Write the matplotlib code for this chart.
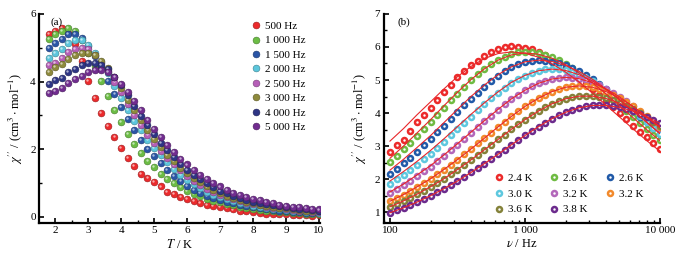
import matplotlib
matplotlib.use('Agg')
import matplotlib.pyplot as plt
import matplotlib.colors as mcolors
from matplotlib.ticker import MultipleLocator, FixedLocator, FixedFormatter, LogLocator, NullFormatter
from matplotlib.transforms import offset_copy

# ---------------- data: panel (a) ----------------
T = [1.8, 2.0, 2.2, 2.4, 2.6, 2.8, 3.0, 3.2, 3.4, 3.6, 3.8, 4.0, 4.2, 4.4, 4.6, 4.8,
     5.0, 5.2, 5.4, 5.6, 5.8, 6.0, 6.2, 6.4, 6.6, 6.8, 7.0, 7.2, 7.4, 7.6, 7.8, 8.0,
     8.2, 8.4, 8.6, 8.8, 9.0, 9.2, 9.4, 9.6, 9.8, 10.0]
freq_labels_a = ["500 Hz", "1 000 Hz", "1 500 Hz", "2 000 Hz", "2 500 Hz", "3 000 Hz", "4 000 Hz", "5 000 Hz"]
chi_500 = [5.40, 5.50, 5.58, 5.45, 5.10, 4.60, 4.02, 3.53, 3.07, 2.68, 2.35, 2.03, 1.75, 1.52, 1.27, 1.15,
           1.04, 0.90, 0.73, 0.67, 0.60, 0.54, 0.48, 0.42, 0.36, 0.32, 0.29, 0.26, 0.22, 0.19, 0.17, 0.14,
           0.13, 0.10, 0.10, 0.09, 0.08, 0.07, 0.06, 0.06, 0.04, 0.05]
chi_1000 = [5.27, 5.42, 5.50, 5.58, 5.50, 5.22, 4.85, 4.45, 4.02, 3.58, 3.17, 2.80, 2.45, 2.16, 1.90, 1.66,
            1.47, 1.28, 1.13, 1.00, 0.88, 0.78, 0.69, 0.61, 0.54, 0.48, 0.43, 0.38, 0.34, 0.30, 0.27, 0.24,
            0.21, 0.19, 0.17, 0.15, 0.14, 0.12, 0.11, 0.10, 0.09, 0.08]
chi_1500 = [5.00, 5.15, 5.25, 5.40, 5.42, 5.30, 5.05, 4.75, 4.40, 4.02, 3.63, 3.26, 2.90, 2.56, 2.28, 2.00,
            1.79, 1.59, 1.39, 1.22, 1.06, 0.92, 0.81, 0.72, 0.63, 0.56, 0.50, 0.45, 0.40, 0.36, 0.32, 0.29,
            0.26, 0.23, 0.21, 0.19, 0.17, 0.16, 0.14, 0.13, 0.12, 0.11]
chi_2000 = [4.70, 4.85, 4.97, 5.15, 5.22, 5.22, 5.08, 4.85, 4.57, 4.25, 3.88, 3.51, 3.17, 2.84, 2.56, 2.28,
            2.04, 1.82, 1.61, 1.42, 1.25, 1.10, 0.96, 0.85, 0.75, 0.66, 0.59, 0.52, 0.46, 0.41, 0.37, 0.33,
            0.30, 0.27, 0.24, 0.22, 0.20, 0.18, 0.17, 0.15, 0.14, 0.13]
chi_2500 = [4.48, 4.55, 4.70, 4.88, 4.97, 5.00, 4.95, 4.78, 4.55, 4.30, 4.00, 3.68, 3.33, 3.02, 2.72, 2.43,
            2.18, 1.96, 1.75, 1.55, 1.38, 1.22, 1.07, 0.95, 0.84, 0.74, 0.66, 0.59, 0.52, 0.46, 0.42, 0.37,
            0.34, 0.30, 0.27, 0.25, 0.23, 0.21, 0.19, 0.18, 0.16, 0.15]
chi_3000 = [4.28, 4.42, 4.52, 4.68, 4.78, 4.84, 4.85, 4.78, 4.62, 4.40, 4.13, 3.80, 3.47, 3.15, 2.86, 2.56,
            2.30, 2.06, 1.84, 1.64, 1.46, 1.30, 1.15, 1.02, 0.90, 0.80, 0.71, 0.63, 0.56, 0.50, 0.45, 0.40,
            0.36, 0.33, 0.30, 0.27, 0.25, 0.23, 0.21, 0.19, 0.18, 0.17]
chi_4000 = [3.93, 4.05, 4.10, 4.27, 4.38, 4.48, 4.55, 4.55, 4.48, 4.38, 4.15, 3.90, 3.60, 3.28, 2.98, 2.72,
            2.45, 2.20, 1.97, 1.76, 1.57, 1.40, 1.25, 1.11, 0.99, 0.88, 0.78, 0.70, 0.62, 0.56, 0.50, 0.45,
            0.41, 0.37, 0.34, 0.31, 0.28, 0.26, 0.24, 0.22, 0.20, 0.19]
chi_5000 = [3.65, 3.72, 3.82, 3.97, 4.08, 4.18, 4.28, 4.33, 4.35, 4.27, 4.15, 3.93, 3.68, 3.42, 3.15, 2.87,
            2.60, 2.36, 2.12, 1.92, 1.71, 1.55, 1.39, 1.25, 1.12, 1.00, 0.90, 0.80, 0.72, 0.65, 0.59, 0.54,
            0.49, 0.44, 0.40, 0.36, 0.33, 0.30, 0.28, 0.26, 0.24, 0.22]
series_a = [chi_500, chi_1000, chi_1500, chi_2000, chi_2500, chi_3000, chi_4000, chi_5000]
colors_a = ["#ec2a2c", "#6cbd45", "#2a55a6", "#5cc6dc", "#b65fb8", "#8e8a3c", "#2e3585", "#712c8f"]

# ---------------- data: panel (b) ----------------
freq = [100, 112, 126, 141, 158, 178, 200, 224, 251, 282, 316, 355, 398, 447, 501, 562, 631, 708,
        794, 891, 1000, 1122, 1259, 1413, 1585, 1778, 1995, 2239, 2512, 2818, 3162, 3548, 3981,
        4467, 5012, 5623, 6310, 7079, 7943, 8913, 10000]
temp_labels = ["2.4 K", "2.6 K", "2.6 K", "3.0 K", "3.2 K", "3.2 K", "3.6 K", "3.8 K"]
chi_24 = [2.83, 3.02, 3.19, 3.45, 3.74, 3.94, 4.15, 4.39, 4.63, 4.86, 5.08, 5.27, 5.44, 5.58, 5.72,
          5.85, 5.95, 6.00, 6.02, 6.01, 5.98, 5.93, 5.85, 5.76, 5.65, 5.53, 5.39, 5.24, 5.08, 4.91,
          4.73, 4.55, 4.37, 4.18, 3.99, 3.81, 3.62, 3.44, 3.26, 3.09, 2.92]
chi_26a = [2.53, 2.71, 2.90, 3.10, 3.30, 3.51, 3.73, 3.94, 4.16, 4.38, 4.59, 4.80, 4.99, 5.17, 5.34,
           5.49, 5.61, 5.71, 5.79, 5.84, 5.85, 5.84, 5.81, 5.76, 5.69, 5.60, 5.49, 5.37, 5.24, 5.09,
           4.94, 4.77, 4.60, 4.42, 4.24, 4.06, 3.88, 3.70, 3.52, 3.34, 3.17]
chi_26b = [2.16, 2.31, 2.48, 2.65, 2.83, 3.02, 3.22, 3.42, 3.62, 3.82, 4.03, 4.23, 4.43, 4.62, 4.80,
           4.97, 5.13, 5.27, 5.38, 5.48, 5.55, 5.59, 5.60, 5.59, 5.56, 5.51, 5.44, 5.36, 5.26, 5.14,
           5.02, 4.88, 4.73, 4.57, 4.40, 4.24, 4.06, 3.89, 3.72, 3.54, 3.37]
chi_30 = [1.85, 1.99, 2.13, 2.28, 2.44, 2.60, 2.77, 2.95, 3.13, 3.32, 3.51, 3.70, 3.89, 4.08, 4.26,
          4.44, 4.60, 4.76, 4.90, 5.03, 5.13, 5.22, 5.28, 5.32, 5.33, 5.32, 5.29, 5.24, 5.16, 5.07,
          4.97, 4.84, 4.71, 4.56, 4.41, 4.24, 4.07, 3.90, 3.73, 3.55, 3.38]
chi_32a = [1.58, 1.70, 1.82, 1.95, 2.09, 2.23, 2.38, 2.54, 2.70, 2.87, 3.04, 3.22, 3.39, 3.57, 3.75,
           3.92, 4.09, 4.26, 4.41, 4.56, 4.69, 4.81, 4.90, 4.98, 5.03, 5.07, 5.08, 5.07, 5.04, 4.99,
           4.92, 4.84, 4.73, 4.62, 4.49, 4.35, 4.20, 4.04, 3.88, 3.72, 3.55]
chi_32b = [1.33, 1.43, 1.53, 1.64, 1.76, 1.88, 2.01, 2.15, 2.29, 2.44, 2.59, 2.75, 2.91, 3.08, 3.24,
           3.41, 3.58, 3.74, 3.90, 4.05, 4.20, 4.33, 4.45, 4.56, 4.65, 4.72, 4.78, 4.81, 4.82, 4.81,
           4.78, 4.72, 4.65, 4.56, 4.45, 4.33, 4.20, 4.05, 3.90, 3.74, 3.58]
chi_36 = [1.16, 1.24, 1.34, 1.44, 1.54, 1.65, 1.77, 1.89, 2.01, 2.15, 2.29, 2.43, 2.58, 2.73, 2.89,
          3.04, 3.20, 3.35, 3.51, 3.66, 3.80, 3.94, 4.06, 4.18, 4.28, 4.36, 4.43, 4.48, 4.51, 4.52,
          4.51, 4.48, 4.44, 4.38, 4.30, 4.21, 4.11, 3.99, 3.87, 3.74, 3.60]
chi_38 = [0.98, 1.06, 1.13, 1.22, 1.30, 1.40, 1.50, 1.60, 1.71, 1.82, 1.94, 2.07, 2.20, 2.33, 2.47,
          2.61, 2.75, 2.89, 3.04, 3.18, 3.32, 3.46, 3.59, 3.71, 3.83, 3.93, 4.02, 4.10, 4.16, 4.20,
          4.23, 4.24, 4.23, 4.21, 4.17, 4.12, 4.06, 3.98, 3.89, 3.80, 3.69]
series_b = [chi_24, chi_26a, chi_26b, chi_30, chi_32a, chi_32b, chi_36, chi_38]
colors_b = ["#ec2b2b", "#6fbb42", "#215aa8", "#5ec8df", "#b368ba", "#f28a2c", "#84823a", "#6c2b8d"]

freq_fit = [100, 126, 158, 200, 251, 316, 398, 501, 631, 794, 1000, 1259, 1585, 1995, 2512, 3162,
            3981, 5012, 6310, 7943, 10000]
fit_24 = [3.15, 3.53, 3.94, 4.34, 4.73, 5.10, 5.41, 5.65, 5.80, 5.85, 5.81, 5.69, 5.49, 5.24, 4.94,
          4.60, 4.24, 3.88, 3.52, 3.17, 2.84]
fit_26a = [2.63, 3.00, 3.39, 3.80, 4.22, 4.63, 5.01, 5.34, 5.60, 5.76, 5.82, 5.78, 5.66, 5.47, 5.21,
           4.91, 4.58, 4.22, 3.86, 3.50, 3.16]
fit_26b = [2.27, 2.60, 2.95, 3.32, 3.71, 4.11, 4.50, 4.85, 5.16, 5.40, 5.55, 5.60, 5.56, 5.44, 5.26,
           5.02, 4.73, 4.40, 4.06, 3.72, 3.37]
fit_30 = [1.94, 2.23, 2.53, 2.87, 3.22, 3.59, 3.96, 4.31, 4.64, 4.93, 5.14, 5.28, 5.33, 5.29, 5.16,
          4.97, 4.71, 4.41, 4.07, 3.73, 3.38]
fit_32a = [1.61, 1.85, 2.12, 2.41, 2.73, 3.07, 3.42, 3.77, 4.11, 4.43, 4.69, 4.90, 5.03, 5.08, 5.04,
           4.92, 4.73, 4.49, 4.20, 3.88, 3.55]
fit_32b = [1.33, 1.53, 1.76, 2.01, 2.29, 2.59, 2.91, 3.24, 3.58, 3.90, 4.20, 4.45, 4.65, 4.78, 4.82,
           4.78, 4.65, 4.45, 4.20, 3.90, 3.58]
fit_36 = [1.16, 1.34, 1.54, 1.77, 2.01, 2.29, 2.58, 2.89, 3.20, 3.51, 3.80, 4.06, 4.28, 4.43, 4.51,
          4.51, 4.44, 4.30, 4.11, 3.87, 3.60]
fit_38 = [0.98, 1.13, 1.30, 1.50, 1.71, 1.94, 2.20, 2.47, 2.75, 3.04, 3.32, 3.59, 3.83, 4.02, 4.16,
          4.23, 4.23, 4.17, 4.06, 3.89, 3.69]
fits_b = [fit_24, fit_26a, fit_26b, fit_30, fit_32a, fit_32b, fit_36, fit_38]

xticks_b = [100, 1000, 10000]
xticklabels_b = ["100", "1 000", "10 000"]

# ---------------- style ----------------
plt.rcParams['font.family'] = ['Liberation Serif', 'DejaVu Serif']
plt.rcParams['mathtext.fontset'] = 'stix'
FS = 8.0
LFS = 9.0

fig = plt.figure(figsize=(6.89, 2.63), dpi=100)
axa = fig.add_axes([0.057, 0.152, 0.407, 0.795])
axb = fig.add_axes([0.557, 0.152, 0.401, 0.795])


def shade(c, f):
    r, g, b = mcolors.to_rgb(c)
    if f >= 0:
        return (r + (1 - r) * f, g + (1 - g) * f, b + (1 - b) * f)
    return (r * (1 + f), g * (1 + f), b * (1 + f))


def style_axes(ax):
    for s in ('top', 'right'):
        ax.spines[s].set_visible(False)
    for s in ('left', 'bottom'):
        ax.spines[s].set_linewidth(1.6)
    ax.tick_params(which='both', direction='in', top=False, right=False, labelsize=FS, pad=2.5)
    ax.tick_params(which='major', length=3.5, width=1.2)
    ax.tick_params(which='minor', length=2.2, width=1.0)


# panel (a)
hl = offset_copy(axa.transData, fig=fig, x=-0.7, y=0.7, units='points')
handles_a = []
for vals, c, lab in zip(series_a, colors_a, freq_labels_a):
    h, = axa.plot(T, vals, ls='none', marker='o', ms=4.9, mfc=c, mec=shade(c, -0.35),
                  mew=0.4, label=lab)
    axa.plot(T, vals, ls='none', marker='o', ms=1.7, mfc=shade(c, 0.6), mec='none',
             transform=hl)
    handles_a.append(h)

axa.set_xlim(1.52, 10.02)
axa.set_ylim(-0.18, 6.0)
axa.xaxis.set_major_locator(MultipleLocator(1))
axa.xaxis.set_minor_locator(MultipleLocator(0.5))
axa.yaxis.set_major_locator(MultipleLocator(2))
axa.yaxis.set_minor_locator(MultipleLocator(1))
style_axes(axa)
axa.set_xlabel(r"$T$ / K", fontsize=LFS, labelpad=1.5)
axa.set_ylabel(r"$\chi''$ / (cm$^{3}\cdot$mol$^{-1}$)", fontsize=LFS, labelpad=4)
axa.text(0.04, 0.985, "(a)", transform=axa.transAxes, fontsize=FS, va='top', ha='left')
axa.legend(handles=handles_a, loc='upper left', bbox_to_anchor=(0.758, 0.965), frameon=False,
           fontsize=FS, handlelength=0.8, handletextpad=0.4, labelspacing=0.42,
           borderpad=0, borderaxespad=0, markerscale=1.0)

# panel (b)
handles_b = []
for vals, c, lab in zip(series_b, colors_b, temp_labels):
    h, = axb.plot(freq, vals, ls='none', marker='o', ms=3.6, mfc='white', mec=c, mew=1.8, label=lab,
                  zorder=2)
    handles_b.append(h)
for fv in fits_b:
    axb.plot(freq_fit, fv, color='#e8262a', lw=0.8, zorder=3)

axb.set_xscale('log')
axb.set_xlim(90, 10000)
axb.set_ylim(0.67, 7.0)
axb.xaxis.set_major_locator(FixedLocator(xticks_b))
axb.xaxis.set_major_formatter(FixedFormatter(xticklabels_b))
axb.xaxis.set_minor_locator(LogLocator(base=10, subs=(2, 3, 4, 5, 6, 7, 8, 9)))
axb.xaxis.set_minor_formatter(NullFormatter())
axb.yaxis.set_major_locator(MultipleLocator(1))
axb.yaxis.set_minor_locator(MultipleLocator(0.5))
style_axes(axb)
axb.set_xlabel(r"$\nu$ / Hz", fontsize=LFS, labelpad=1.5)
axb.set_ylabel(r"$\chi''$ / (cm$^{3}\cdot$mol$^{-1}$)", fontsize=LFS, labelpad=4)
axb.text(0.05, 0.985, "(b)", transform=axb.transAxes, fontsize=FS, va='top', ha='left')
order = [0, 3, 6, 1, 4, 7, 2, 5]
axb.legend(handles=[handles_b[i] for i in order], labels=[temp_labels[i] for i in order],
           loc='upper left', bbox_to_anchor=(0.40, 0.24), ncol=3, frameon=False, fontsize=FS,
           handlelength=0.8, handletextpad=0.4, labelspacing=0.55, columnspacing=1.6,
           borderpad=0, borderaxespad=0)

fig.savefig('out.png', dpi=100)
